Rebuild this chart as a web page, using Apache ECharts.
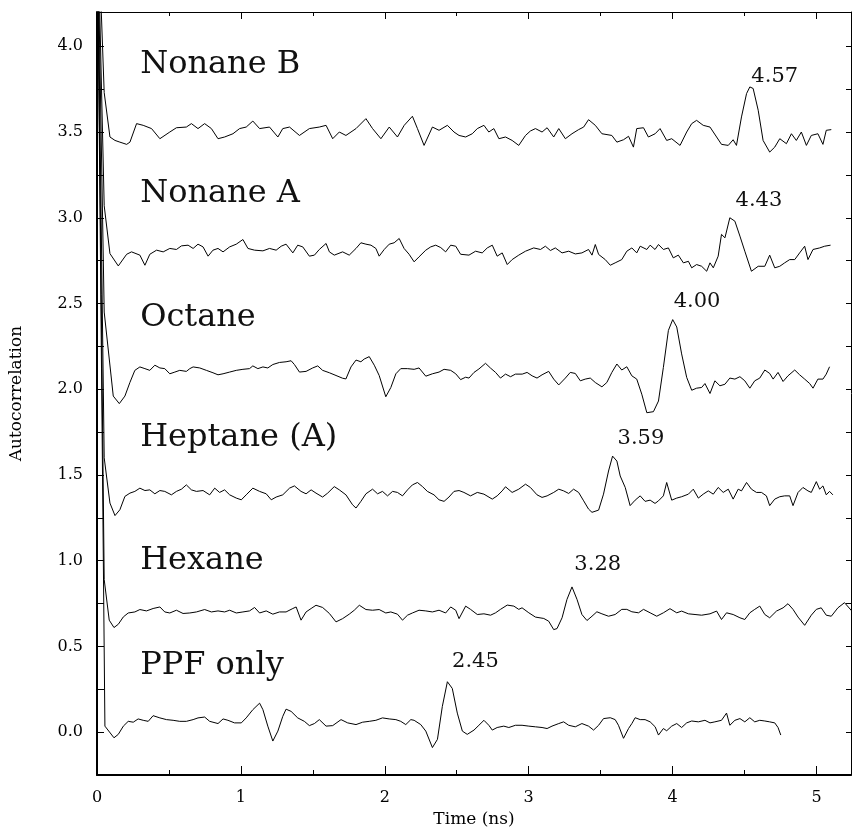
<!DOCTYPE html>
<html>
<head>
<meta charset="utf-8">
<script src="https://cdn.jsdelivr.net/npm/echarts@6/dist/echarts.min.js"></script>
<style>
html,body{margin:0;padding:0;background:#fff;}
#chart{width:854px;height:833px;}
</style>
</head>
<body>
<div id="chart"></div>
<script>
// ---- data: [time (ns), autocorrelation] ----
const seriesNames = ['Nonane B', 'Nonane A', 'Octane', 'Heptane (A)', 'Hexane', 'PPF only'];
const peakTexts = ['4.57', '4.43', '4.00', '3.59', '3.28', '2.45'];

const nonaneB = [
 [0,4.9],[0.05,3.73],[0.09,3.471],[0.125,3.451],[0.159,3.441],[0.206,3.428],[0.229,3.441],[0.275,3.549],
 [0.321,3.539],[0.379,3.52],[0.437,3.461],[0.506,3.5],[0.552,3.525],[0.621,3.529],[0.656,3.549],[0.702,3.52],
 [0.748,3.549],[0.795,3.52],[0.841,3.461],[0.887,3.471],[0.945,3.49],[0.991,3.52],[1.037,3.529],[1.083,3.564],
 [1.13,3.52],[1.199,3.529],[1.257,3.471],[1.291,3.52],[1.338,3.529],[1.407,3.48],[1.476,3.52],[1.545,3.529],
 [1.592,3.539],[1.638,3.461],[1.684,3.5],[1.73,3.48],[1.8,3.52],[1.869,3.578],[1.915,3.52],[1.973,3.461],
 [2.031,3.529],[2.088,3.471],[2.135,3.539],[2.192,3.592],[2.227,3.52],[2.273,3.422],[2.331,3.529],[2.377,3.51],
 [2.435,3.539],[2.481,3.5],[2.516,3.48],[2.562,3.471],[2.608,3.49],[2.643,3.52],[2.689,3.539],[2.723,3.5],
 [2.758,3.52],[2.793,3.461],[2.839,3.471],[2.885,3.451],[2.931,3.422],[2.978,3.48],[3.012,3.506],[3.047,3.52],
 [3.093,3.5],[3.128,3.525],[3.174,3.471],[3.209,3.52],[3.255,3.461],[3.301,3.49],[3.347,3.514],[3.382,3.529],
 [3.416,3.572],[3.463,3.539],[3.509,3.49],[3.578,3.48],[3.613,3.441],[3.659,3.455],[3.694,3.475],[3.728,3.412],
 [3.751,3.52],[3.798,3.525],[3.832,3.471],[3.879,3.49],[3.913,3.52],[3.959,3.451],[3.994,3.461],[4.052,3.422],
 [4.098,3.5],[4.133,3.549],[4.167,3.568],[4.213,3.539],[4.26,3.529],[4.306,3.471],[4.34,3.428],[4.387,3.422],
 [4.421,3.455],[4.444,3.422],[4.479,3.588],[4.514,3.724],[4.537,3.763],[4.56,3.754],[4.595,3.627],[4.629,3.451],
 [4.675,3.383],[4.71,3.412],[4.745,3.461],[4.791,3.432],[4.826,3.49],[4.86,3.451],[4.895,3.5],[4.93,3.422],
 [4.964,3.48],[5.01,3.49],[5.045,3.428],[5.068,3.51],[5.103,3.514]
];
const nonaneA = [
 [0,4.9],[0.05,3.07],[0.09,2.791],[0.148,2.719],[0.206,2.787],[0.24,2.801],[0.298,2.782],[0.333,2.723],
 [0.367,2.787],[0.414,2.811],[0.46,2.801],[0.506,2.821],[0.552,2.815],[0.587,2.836],[0.633,2.84],[0.668,2.821],
 [0.702,2.846],[0.737,2.83],[0.772,2.776],[0.806,2.811],[0.841,2.821],[0.876,2.801],[0.922,2.83],[0.968,2.846],
 [1.014,2.873],[1.049,2.821],[1.095,2.811],[1.153,2.807],[1.199,2.821],[1.245,2.811],[1.28,2.834],[1.314,2.846],
 [1.361,2.795],[1.395,2.84],[1.43,2.83],[1.476,2.776],[1.511,2.782],[1.545,2.815],[1.592,2.85],[1.615,2.801],
 [1.649,2.782],[1.707,2.801],[1.753,2.782],[1.8,2.821],[1.834,2.854],[1.869,2.846],[1.904,2.84],[1.938,2.821],
 [1.961,2.776],[1.996,2.815],[2.031,2.846],[2.065,2.854],[2.1,2.879],[2.134,2.821],[2.169,2.787],[2.204,2.743],
 [2.238,2.772],[2.285,2.811],[2.319,2.83],[2.354,2.84],[2.389,2.826],[2.423,2.801],[2.458,2.84],[2.493,2.834],
 [2.527,2.787],[2.585,2.782],[2.631,2.805],[2.677,2.795],[2.712,2.824],[2.747,2.84],[2.781,2.776],[2.816,2.795],
 [2.851,2.727],[2.885,2.756],[2.931,2.782],[2.978,2.805],[3.035,2.824],[3.082,2.815],[3.116,2.834],[3.151,2.809],
 [3.185,2.824],[3.232,2.795],[3.278,2.805],[3.324,2.789],[3.37,2.795],[3.416,2.815],[3.44,2.782],[3.463,2.844],
 [3.486,2.786],[3.532,2.756],[3.567,2.723],[3.601,2.737],[3.647,2.756],[3.682,2.805],[3.717,2.824],[3.751,2.795],
 [3.775,2.834],[3.821,2.815],[3.844,2.84],[3.878,2.815],[3.902,2.844],[3.936,2.815],[3.971,2.824],[4.005,2.766],
 [4.04,2.782],[4.075,2.737],[4.11,2.746],[4.133,2.708],[4.167,2.727],[4.202,2.717],[4.237,2.688],[4.26,2.737],
 [4.283,2.708],[4.317,2.776],[4.34,2.903],[4.364,2.883],[4.398,3.0],[4.433,2.98],[4.468,2.893],[4.502,2.805],
 [4.548,2.688],[4.595,2.717],[4.641,2.717],[4.675,2.782],[4.71,2.708],[4.745,2.717],[4.779,2.737],[4.814,2.756],
 [4.849,2.756],[4.883,2.795],[4.918,2.834],[4.941,2.756],[4.976,2.815],[5.022,2.824],[5.057,2.834],[5.098,2.84]
];
const octane = [
 [0,4.9],[0.05,2.45],[0.113,1.96],[0.155,1.916],[0.194,1.96],[0.229,2.04],[0.263,2.11],[0.298,2.13],
 [0.333,2.12],[0.367,2.11],[0.402,2.14],[0.437,2.124],[0.471,2.12],[0.506,2.09],[0.541,2.1],[0.575,2.11],
 [0.621,2.104],[0.645,2.12],[0.668,2.13],[0.714,2.124],[0.76,2.11],[0.806,2.096],[0.841,2.084],[0.876,2.09],
 [0.922,2.1],[0.968,2.11],[1.014,2.116],[1.06,2.12],[1.083,2.136],[1.118,2.12],[1.153,2.13],[1.187,2.124],
 [1.222,2.144],[1.268,2.156],[1.314,2.16],[1.349,2.166],[1.372,2.144],[1.407,2.1],[1.453,2.104],[1.499,2.124],
 [1.534,2.136],[1.568,2.11],[1.615,2.096],[1.661,2.08],[1.707,2.064],[1.73,2.06],[1.765,2.13],[1.8,2.17],
 [1.834,2.16],[1.857,2.176],[1.892,2.19],[1.927,2.14],[1.961,2.08],[2.007,1.956],[2.042,2.01],[2.077,2.09],
 [2.111,2.12],[2.157,2.12],[2.204,2.116],[2.238,2.124],[2.285,2.076],[2.331,2.09],[2.377,2.1],[2.412,2.116],
 [2.458,2.11],[2.493,2.09],[2.527,2.056],[2.562,2.07],[2.585,2.065],[2.62,2.098],[2.654,2.118],[2.7,2.151],
 [2.735,2.123],[2.77,2.098],[2.804,2.065],[2.839,2.088],[2.874,2.073],[2.908,2.088],[2.955,2.088],[2.989,2.098],
 [3.024,2.078],[3.058,2.065],[3.093,2.084],[3.139,2.104],[3.174,2.059],[3.209,2.025],[3.255,2.065],[3.289,2.098],
 [3.324,2.092],[3.359,2.049],[3.393,2.059],[3.428,2.065],[3.463,2.039],[3.509,2.014],[3.543,2.039],[3.578,2.098],
 [3.613,2.147],[3.647,2.112],[3.682,2.131],[3.717,2.078],[3.751,2.059],[3.786,1.971],[3.821,1.863],[3.867,1.869],
 [3.902,1.931],[3.936,2.127],[3.971,2.343],[4.001,2.406],[4.029,2.363],[4.063,2.206],[4.098,2.069],[4.133,1.994],
 [4.167,2.006],[4.202,2.01],[4.225,2.033],[4.26,1.975],[4.294,2.049],[4.329,2.02],[4.364,2.029],[4.398,2.065],
 [4.433,2.059],[4.468,2.073],[4.502,2.049],[4.537,2.006],[4.571,2.049],[4.606,2.065],[4.641,2.112],[4.675,2.092],
 [4.699,2.059],[4.733,2.098],[4.768,2.045],[4.802,2.078],[4.849,2.112],[4.883,2.084],[4.918,2.059],[4.953,2.033],
 [4.976,2.006],[5.01,2.059],[5.045,2.059],[5.068,2.088],[5.091,2.131]
];
const heptane = [
 [0,4.9],[0.05,1.6],[0.09,1.336],[0.125,1.263],[0.159,1.297],[0.194,1.375],[0.229,1.394],[0.263,1.404],
 [0.298,1.423],[0.333,1.409],[0.367,1.413],[0.402,1.39],[0.437,1.409],[0.471,1.404],[0.517,1.384],[0.552,1.404],
 [0.587,1.417],[0.621,1.442],[0.656,1.413],[0.691,1.404],[0.737,1.409],[0.783,1.384],[0.818,1.423],[0.852,1.398],
 [0.887,1.413],[0.922,1.384],[0.968,1.365],[1.003,1.355],[1.037,1.384],[1.083,1.423],[1.13,1.404],[1.176,1.39],
 [1.211,1.355],[1.245,1.371],[1.291,1.384],[1.338,1.423],[1.372,1.436],[1.418,1.404],[1.453,1.39],[1.488,1.413],
 [1.522,1.394],[1.568,1.371],[1.603,1.394],[1.649,1.432],[1.684,1.413],[1.73,1.384],[1.776,1.326],[1.8,1.307],
 [1.834,1.346],[1.869,1.39],[1.915,1.417],[1.95,1.39],[1.984,1.404],[2.019,1.378],[2.054,1.404],[2.088,1.398],
 [2.123,1.378],[2.158,1.413],[2.192,1.442],[2.227,1.456],[2.262,1.432],[2.296,1.404],[2.342,1.384],[2.377,1.355],
 [2.412,1.346],[2.446,1.371],[2.481,1.404],[2.516,1.409],[2.55,1.398],[2.596,1.378],[2.643,1.398],[2.689,1.388],
 [2.747,1.359],[2.781,1.378],[2.816,1.407],[2.839,1.431],[2.885,1.398],[2.931,1.417],[2.978,1.446],[3.012,1.427],
 [3.058,1.384],[3.093,1.369],[3.128,1.378],[3.174,1.398],[3.209,1.417],[3.243,1.407],[3.278,1.392],[3.312,1.417],
 [3.347,1.398],[3.382,1.349],[3.416,1.301],[3.44,1.282],[3.486,1.295],[3.52,1.388],[3.555,1.523],[3.583,1.61],
 [3.613,1.581],[3.636,1.494],[3.671,1.427],[3.705,1.321],[3.74,1.353],[3.775,1.378],[3.809,1.346],[3.844,1.353],
 [3.878,1.334],[3.902,1.349],[3.936,1.378],[3.959,1.456],[3.994,1.353],[4.029,1.365],[4.063,1.373],[4.11,1.388],
 [4.144,1.417],[4.179,1.365],[4.213,1.388],[4.248,1.407],[4.283,1.388],[4.317,1.427],[4.352,1.398],[4.387,1.417],
 [4.421,1.359],[4.456,1.417],[4.479,1.407],[4.514,1.456],[4.548,1.417],[4.583,1.398],[4.618,1.398],[4.652,1.378],
 [4.675,1.321],[4.71,1.359],[4.745,1.373],[4.779,1.378],[4.814,1.378],[4.837,1.321],[4.872,1.398],[4.906,1.427],
 [4.941,1.407],[4.964,1.398],[4.999,1.461],[5.022,1.417],[5.045,1.436],[5.068,1.384],[5.091,1.404],[5.114,1.384]
];
const hexane = [
 [0,4.9],[0.05,0.89],[0.085,0.653],[0.118,0.61],[0.148,0.629],[0.183,0.672],[0.217,0.695],[0.263,0.701],
 [0.298,0.715],[0.344,0.707],[0.39,0.721],[0.437,0.73],[0.471,0.701],[0.506,0.695],[0.552,0.711],[0.598,0.692],
 [0.645,0.695],[0.691,0.701],[0.748,0.715],[0.795,0.701],[0.841,0.707],[0.887,0.701],[0.922,0.711],[0.968,0.695],
 [1.014,0.701],[1.06,0.707],[1.095,0.727],[1.13,0.695],[1.176,0.707],[1.222,0.688],[1.268,0.701],[1.314,0.701],
 [1.361,0.721],[1.384,0.73],[1.418,0.653],[1.453,0.701],[1.488,0.721],[1.522,0.74],[1.568,0.727],[1.615,0.692],
 [1.661,0.643],[1.707,0.662],[1.753,0.688],[1.788,0.711],[1.823,0.74],[1.869,0.715],[1.915,0.711],[1.961,0.715],
 [2.007,0.695],[2.042,0.701],[2.088,0.688],[2.123,0.653],[2.158,0.682],[2.192,0.695],[2.238,0.711],[2.285,0.707],
 [2.331,0.701],[2.377,0.711],[2.423,0.695],[2.458,0.73],[2.493,0.711],[2.516,0.662],[2.562,0.735],[2.596,0.716],
 [2.643,0.686],[2.689,0.69],[2.735,0.682],[2.77,0.696],[2.804,0.716],[2.851,0.741],[2.897,0.735],[2.931,0.716],
 [2.954,0.725],[3.001,0.696],[3.047,0.671],[3.105,0.663],[3.139,0.647],[3.174,0.598],[3.197,0.604],[3.232,0.667],
 [3.266,0.774],[3.301,0.847],[3.336,0.774],[3.37,0.686],[3.405,0.651],[3.44,0.676],[3.474,0.702],[3.509,0.69],
 [3.555,0.676],[3.601,0.686],[3.647,0.716],[3.682,0.716],[3.717,0.702],[3.763,0.696],[3.798,0.716],[3.844,0.696],
 [3.89,0.676],[3.936,0.696],[3.982,0.72],[4.029,0.696],[4.063,0.706],[4.11,0.69],[4.156,0.686],[4.202,0.682],
 [4.26,0.69],[4.306,0.706],[4.34,0.657],[4.375,0.696],[4.421,0.686],[4.468,0.667],[4.502,0.657],[4.537,0.696],
 [4.571,0.716],[4.606,0.735],[4.641,0.686],[4.675,0.667],[4.722,0.706],[4.768,0.725],[4.802,0.749],[4.837,0.716],
 [4.872,0.671],[4.918,0.623],[4.964,0.682],[4.999,0.716],[5.033,0.725],[5.068,0.682],[5.103,0.676],[5.149,0.725],
 [5.195,0.755],[5.246,0.706]
];
const ppfOnly = [
 [0,4.9],[0.055,0.035],[0.118,-0.033],[0.148,-0.013],[0.183,0.035],[0.217,0.063],[0.252,0.058],[0.286,0.077],
 [0.321,0.069],[0.356,0.063],[0.39,0.096],[0.437,0.083],[0.483,0.073],[0.529,0.069],[0.575,0.063],[0.621,0.063],
 [0.668,0.073],[0.702,0.083],[0.748,0.088],[0.783,0.063],[0.841,0.05],[0.876,0.077],[0.91,0.069],[0.956,0.054],
 [1.003,0.054],[1.037,0.083],[1.083,0.131],[1.13,0.169],[1.153,0.131],[1.187,0.035],[1.222,-0.052],[1.257,0.006],
 [1.291,0.092],[1.314,0.134],[1.349,0.121],[1.395,0.083],[1.441,0.063],[1.476,0.038],[1.511,0.05],[1.545,0.073],
 [1.592,0.035],[1.638,0.038],[1.696,0.073],[1.742,0.054],[1.8,0.044],[1.846,0.058],[1.892,0.063],[1.938,0.069],
 [1.984,0.083],[2.031,0.077],[2.077,0.073],[2.111,0.063],[2.146,0.044],[2.181,0.073],[2.204,0.069],[2.25,0.044],
 [2.285,0.006],[2.331,-0.09],[2.366,-0.042],[2.4,0.15],[2.435,0.294],[2.469,0.255],[2.504,0.111],[2.539,0.006],
 [2.573,-0.013],[2.62,0.012],[2.654,0.04],[2.689,0.069],[2.723,0.04],[2.747,0.012],[2.781,0.027],[2.827,0.035],
 [2.862,0.027],[2.908,0.04],[2.954,0.04],[3.001,0.035],[3.047,0.031],[3.093,0.027],[3.128,0.021],[3.162,0.035],
 [3.209,0.05],[3.243,0.06],[3.278,0.04],[3.324,0.031],[3.37,0.05],[3.416,0.035],[3.451,0.012],[3.486,0.04],
 [3.52,0.079],[3.567,0.084],[3.601,0.073],[3.624,0.04],[3.659,-0.036],[3.694,0.021],[3.717,0.05],[3.74,0.084],
 [3.775,0.073],[3.809,0.073],[3.844,0.06],[3.879,0.031],[3.902,-0.017],[3.936,0.021],[3.959,0.008],[3.994,0.035],
 [4.029,0.05],[4.063,0.027],[4.098,0.054],[4.133,0.065],[4.179,0.06],[4.225,0.069],[4.26,0.054],[4.294,0.06],
 [4.34,0.069],[4.375,0.111],[4.398,0.04],[4.433,0.069],[4.468,0.079],[4.502,0.06],[4.537,0.084],[4.571,0.06],
 [4.606,0.069],[4.641,0.065],[4.675,0.06],[4.71,0.054],[4.733,0.027],[4.752,-0.017]
];

const allSeries = [nonaneB, nonaneA, octane, heptane, hexane, ppfOnly];

// annotation anchors (data units)
const nameLabelAt = [[0.30,3.89],[0.30,3.14],[0.30,2.42],[0.30,1.72],[0.30,1.0],[0.30,0.385]];
const peakLabelAt = [[4.71,3.825],[4.60,3.10],[4.17,2.51],[3.78,1.71],[3.48,0.98],[2.63,0.41]];

// ---- chart ----
const FONT = 'DejaVu Serif';
const chart = echarts.init(document.getElementById('chart'), null, {renderer: 'canvas'});

const series = allSeries.map((pts, k) => ({
  type: 'line',
  name: seriesNames[k],
  data: pts,
  showSymbol: false,
  symbol: 'none',
  clip: true,
  lineStyle: {color: '#000', width: 1},
  itemStyle: {color: '#000'},
  silent: true,
  markPoint: {
    symbol: 'circle',
    symbolSize: 0,
    silent: true,
    data: [
      {coord: nameLabelAt[k], value: seriesNames[k],
       label: {show: true, formatter: seriesNames[k], position: 'right', distance: 0,
               fontFamily: FONT, fontSize: 32, color: '#111'}},
      {coord: peakLabelAt[k], value: peakTexts[k],
       label: {show: true, formatter: peakTexts[k], position: 'inside',
               fontFamily: FONT, fontSize: 21, color: '#111'}}
    ]
  }
}));

const yFmt = v => {
  const d = v * 2;
  if (Math.abs(d - Math.round(d)) < 1e-6 && v > -0.01 && v < 4.01) return v.toFixed(1);
  return '';
};
const xFmt = v => (Math.abs(v - Math.round(v)) < 1e-6 ? String(Math.round(v)) : '');

chart.setOption({
  animation: false,
  backgroundColor: '#fff',
  grid: {left: 97, right: 2, top: 12, bottom: 58, containLabel: false},
  xAxis: [{
    type: 'value', min: 0, max: 5.24, interval: 1, position: 'bottom',
    name: 'Time (ns)', nameLocation: 'middle', nameGap: 34,
    nameTextStyle: {fontFamily: FONT, fontSize: 17, color: '#000'},
    axisLine: {show: true, onZero: false, lineStyle: {color: '#000', width: 2}},
    axisTick: {show: true, inside: true, length: 9, lineStyle: {color: '#000', width: 1}},
    minorTick: {show: true, splitNumber: 2, length: 5, lineStyle: {color: '#000', width: 1}},
    axisLabel: {margin: 15, fontFamily: FONT, fontSize: 16, color: '#000', formatter: xFmt},
    splitLine: {show: false}
  }, {
    type: 'value', min: 0, max: 5.24, interval: 1, position: 'top',
    axisLine: {show: true, onZero: false, lineStyle: {color: '#000', width: 1}},
    axisTick: {show: true, inside: true, length: 7, lineStyle: {color: '#000'}},
    minorTick: {show: true, splitNumber: 2, length: 4, lineStyle: {color: '#000'}},
    axisLabel: {show: false},
    splitLine: {show: false}
  }],
  yAxis: [{
    type: 'value', min: -0.25, max: 4.2, interval: 0.25, position: 'left',
    name: 'Autocorrelation', nameLocation: 'middle', nameGap: 72,
    nameTextStyle: {fontFamily: FONT, fontSize: 17, color: '#000'},
    axisLine: {show: true, onZero: false, lineStyle: {color: '#000', width: 2}},
    axisTick: {show: true, inside: true, length: 7, lineStyle: {color: '#000'}},
    axisLabel: {margin: 14, fontFamily: FONT, fontSize: 16, color: '#000', formatter: yFmt},
    splitLine: {show: false}
  }, {
    type: 'value', min: -0.25, max: 4.2, interval: 0.25, position: 'right',
    axisLine: {show: true, onZero: false, lineStyle: {color: '#000', width: 1}},
    axisTick: {show: true, inside: true, length: 5, lineStyle: {color: '#000'}},
    axisLabel: {show: false},
    splitLine: {show: false}
  }],
  series: series
});
</script>
</body>
</html>
